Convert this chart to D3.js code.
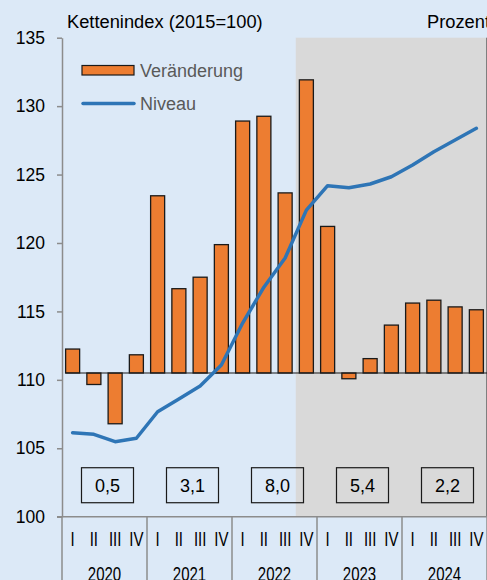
<!DOCTYPE html>
<html><head><meta charset="utf-8">
<script src="https://cdn.jsdelivr.net/npm/d3@7"></script>
<style>html,body{margin:0;padding:0;background:#DCE9F7;overflow:hidden}svg{display:block}text{font-family:"Liberation Sans",Arial,sans-serif}</style>
</head><body>
<script>
const years = ["2020","2021","2022","2023","2024"];
const quarters = ["I","II","III","IV"];
const change = [0.25,-0.12,-0.53,0.19, 1.85,0.88,1.00,1.34, 2.63,2.68,1.88,3.06, 1.53,-0.06,0.15,0.50, 0.73,0.76,0.69,0.66];
const level = [106.14,106.02,105.48,105.73, 107.67,108.6,109.55,111.08, 114.15,116.77,118.9,122.4, 124.19,124.04,124.31,124.84, 125.7,126.67,127.52,128.38];
const annual = ["0,5","3,1","8,0","5,4","2,2"];
const leftTicks = [100,105,110,115,120,125,130,135];
const forecastStart = 11;

const W=487,H=580;
const svg=d3.select("body").append("svg").attr("width",W).attr("height",H);
svg.append("rect").attr("width",W).attr("height",H).attr("fill","#DCE9F7");

const x0=62,x1=487,yTop=37.7,yBot=516.7;
const idx=d3.range(change.length);
const x=d3.scaleBand().domain(idx).range([x0,x1]).paddingInner(0.34).paddingOuter(0.17);
const xy=d3.scaleBand().domain(years).range([x0,x1]);
const yL=d3.scaleLinear().domain([100,135]).range([yBot,yTop]);
const yR=d3.scaleLinear().domain([-1.5,3.5]).range([yBot,yTop]);

// forecast shading
const gx=x0+forecastStart*x.step();
svg.append("rect").attr("x",gx).attr("y",yTop).attr("width",486-gx).attr("height",yBot-yTop).attr("fill","#D9D9D9");

// right edge line
svg.append("line").attr("x1",486.5).attr("x2",486.5).attr("y1",yTop).attr("y2",yBot).attr("stroke","#7f7f7f").attr("stroke-width",1);

// bars
svg.append("g").selectAll("rect").data(idx).join("rect")
 .attr("x",i=>x(i)).attr("width",x.bandwidth())
 .attr("y",i=>yR(Math.max(0,change[i])))
 .attr("height",i=>Math.abs(yR(change[i])-yR(0)))
 .attr("fill","#ED7D31").attr("stroke","#1a1a1a").attr("stroke-width",1.3);

// zero baseline for bars
svg.append("line").attr("x1",x(0)).attr("x2",x1).attr("y1",yR(0)).attr("y2",yR(0)).attr("stroke","#1a1a1a").attr("stroke-width",1.2);

// level line
const line=d3.line().x((d,i)=>x(i)+x.bandwidth()/2).y(d=>yL(d));
svg.append("path").datum(level).attr("d",line).attr("fill","none").attr("stroke","#2E75B6").attr("stroke-width",3.5).attr("stroke-linejoin","round").attr("stroke-linecap","round");

// left axis
const ax=svg.append("g").attr("transform",`translate(${x0},0)`).call(d3.axisLeft(yL).tickValues(leftTicks).tickSize(5).tickSizeOuter(0).tickPadding(12));
ax.select(".domain").attr("stroke","#8c8c8c").attr("stroke-width",1.5);
ax.selectAll(".tick line").attr("stroke","#8c8c8c").attr("stroke-width",1.5);
ax.selectAll(".tick text").attr("font-size",17.5).attr("fill","#000").attr("font-family","Liberation Sans, Arial, sans-serif");

// x axis line & year separators
svg.append("line").attr("x1",57).attr("x2",x1).attr("y1",yBot).attr("y2",yBot).attr("stroke","#8c8c8c").attr("stroke-width",1.5);
svg.append("g").selectAll("line").data(years.concat(["end"])).join("line")
 .attr("x1",(d,i)=>x0+i*xy.step()).attr("x2",(d,i)=>x0+i*xy.step())
 .attr("y1",yBot).attr("y2",H).attr("stroke","#8c8c8c").attr("stroke-width",1.5);

// quarter labels (vertically stretched as in the reference)
svg.append("g").selectAll("text").data(idx).join("text")
 .attr("transform",i=>`translate(${x(i)+x.bandwidth()/2},545.7) scale(1,1.3)`).attr("text-anchor","middle")
 .attr("font-size",15).attr("fill","#000").text(i=>quarters[i%4]);
// year labels
svg.append("g").selectAll("text").data(years).join("text")
 .attr("transform",d=>`translate(${xy(d)+xy.bandwidth()/2},580.5) scale(1,1.3)`).attr("text-anchor","middle")
 .attr("font-size",15).attr("fill","#000").text(d=>d);

// annual boxes
const bg=svg.append("g").selectAll("g").data(years).join("g")
 .attr("transform",d=>`translate(${xy(d)+xy.bandwidth()/2+3},${yL(102.3)})`);
bg.append("rect").attr("x",-26).attr("y",-17.5).attr("width",52).attr("height",35).attr("fill","none").attr("stroke","#1a1a1a").attr("stroke-width",1.2);
bg.append("text").attr("text-anchor","middle").attr("y",6.5).attr("font-size",18).attr("fill","#000").text((d,i)=>annual[i]);

// titles
svg.append("text").attr("x",67).attr("y",28).attr("font-size",18.3).attr("fill","#000").text("Kettenindex (2015=100)");
svg.append("text").attr("x",427).attr("y",28).attr("font-size",18.3).attr("fill","#000").text("Prozent");

// legend
svg.append("rect").attr("x",82).attr("y",65.5).attr("width",52).attr("height",9.5).attr("fill","#ED7D31").attr("stroke","#1a1a1a").attr("stroke-width",1.2);
svg.append("text").attr("x",140).attr("y",77).attr("font-size",18).attr("fill","#595959").text("Veränderung");
svg.append("line").attr("x1",83).attr("x2",134).attr("y1",103.5).attr("y2",103.5).attr("stroke","#2E75B6").attr("stroke-width",3.5).attr("stroke-linecap","round");
svg.append("text").attr("x",140).attr("y",110).attr("font-size",18).attr("fill","#595959").text("Niveau");
</script>
</body></html>
